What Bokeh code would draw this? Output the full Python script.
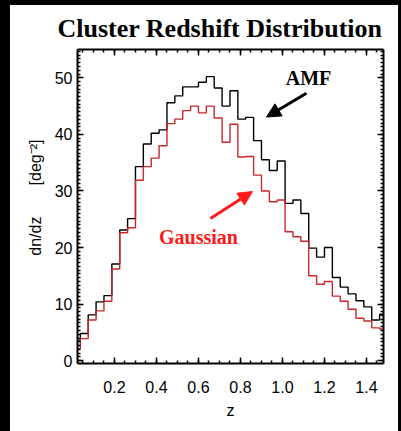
from bokeh.plotting import figure
from bokeh.models import (Range1d, LinearAxis, Label, Arrow, NormalHead, Spacer,
                          SingleIntervalTicker, NumeralTickFormatter)
from bokeh.layouts import row, column
from bokeh.embed import file_html
from bokeh.resources import INLINE

# bin lower edges in z (bin width 0.0375), plus final upper edge
z_lo = [0.0, 0.0375, 0.075, 0.1125, 0.15, 0.1875, 0.225, 0.2625, 0.3, 0.3375,
        0.375, 0.4125, 0.45, 0.4875, 0.525, 0.5625, 0.6, 0.6375, 0.675, 0.7125,
        0.75, 0.7875, 0.825, 0.8625, 0.9, 0.9375, 0.975, 1.0125, 1.05, 1.0875,
        1.125, 1.1625, 1.2, 1.2375, 1.275, 1.3125, 1.35, 1.3875, 1.425, 1.4625]
z_hi_last = 1.5

amf = [3.5, 4.8, 8.1, 10.4, 11.5, 17.1, 23.1, 25.1, 34.3, 38.3,
       40.2, 40.8, 45.6, 46.8, 48.4, 48.4, 49.2, 50.2, 48.2, 45.0,
       47.7, 42.7, 43.0, 38.9, 35.5, 33.6, 35.3, 27.8, 28.4, 26.0,
       19.9, 18.3, 20.0, 14.7, 13.0, 11.8, 10.6, 9.5, 7.2, 8.2]

gauss = [2.1, 3.9, 7.2, 8.8, 10.5, 16.2, 22.6, 23.5, 31.9, 34.3,
         35.8, 38.0, 41.9, 42.7, 44.2, 45.0, 43.8, 45.0, 42.9, 38.6,
         41.8, 36.0, 36.1, 32.8, 30.0, 28.1, 28.4, 22.8, 21.9, 21.1,
         15.0, 13.5, 14.0, 11.4, 10.5, 9.1, 7.5, 7.0, 5.8, 5.6]

x_ticks_interval = 0.2
y_ticks_interval = 10

title_text = "Cluster Redshift Distribution"
xlabel = "z"
NB = "\u00a0"
ylabel = NB * 4 + "dn/dz" + NB * 7 + "[deg\u207b\u00b2]"

p = figure(width=388, height=426, output_backend="svg", toolbar_location=None,
           x_range=Range1d(0.024, 1.481), y_range=Range1d(-0.5, 55),
           min_border_left=67, min_border_right=15, min_border_top=42, min_border_bottom=68,
           background_fill_color="white", border_fill_color="white")
p.outline_line_color = None
p.grid.visible = False

xs = z_lo + [z_hi_last]
p.step(xs, amf + [amf[-1]], mode="after", line_color="black", line_width=1.4)
p.step(xs, gauss + [gauss[-1]], mode="after", line_color="#c8282d", line_width=1.4)

def style(ax, labels=True):
    ax.axis_line_width = 2
    ax.axis_line_color = "black"
    ax.major_tick_in = 6
    ax.major_tick_out = 0
    ax.minor_tick_in = 3
    ax.minor_tick_out = 0
    ax.major_tick_line_width = 1.5
    ax.minor_tick_line_width = 1.5
    ax.major_tick_line_color = "black"
    ax.minor_tick_line_color = "black"
    if labels:
        ax.major_label_text_font = "Liberation Sans"
        ax.major_label_text_font_size = "16px"
        ax.major_label_text_color = "black"
    else:
        ax.major_label_text_font_size = "1px"
        ax.major_label_text_color = None
        ax.major_label_standoff = 0

p.xaxis.ticker = SingleIntervalTicker(interval=x_ticks_interval, num_minor_ticks=4)
p.yaxis.ticker = SingleIntervalTicker(interval=y_ticks_interval, num_minor_ticks=15)
p.xaxis.formatter = NumeralTickFormatter(format="0.0")
style(p.xaxis[0])
style(p.yaxis[0])
p.xaxis.major_label_standoff = 17
p.yaxis.major_label_standoff = 5

for ax, lab, so in ((p.xaxis, xlabel, 6), (p.yaxis, ylabel, 8)):
    ax.axis_label = lab
    ax.axis_label_standoff = so
    ax.axis_label_text_font = "Liberation Sans"
    ax.axis_label_text_font_style = "normal"
    ax.axis_label_text_font_size = "16px"
    ax.axis_label_text_color = "black"

top = LinearAxis(ticker=SingleIntervalTicker(interval=x_ticks_interval, num_minor_ticks=4))
style(top, labels=False)
p.add_layout(top, "above")
right = LinearAxis(ticker=SingleIntervalTicker(interval=y_ticks_interval, num_minor_ticks=15))
style(right, labels=False)
p.add_layout(right, "right")

p.title.text = title_text
p.title.align = "left"
p.title.offset = -20
p.title.standoff = 13
p.title.text_font = "Liberation Serif"
p.title.text_font_style = "bold"
p.title.text_font_size = "26px"
p.title.text_color = "black"

p.add_layout(Label(x=1.124, y=49.9, text="AMF", text_align="center", text_baseline="middle",
                   text_font="Liberation Serif", text_font_style="bold", text_font_size="20px",
                   text_color="black"))
p.add_layout(Label(x=0.6, y=21.8, text="Gaussian", text_align="center", text_baseline="middle",
                   text_font="Liberation Serif", text_font_style="bold", text_font_size="20px",
                   text_color="#ff1a1a"))

p.add_layout(Arrow(end=NormalHead(size=14, fill_color="black", line_color="black"),
                   x_start=1.114, y_start=47.27, x_end=0.924, y_end=43.06,
                   line_width=3, line_color="black"))
p.add_layout(Arrow(end=NormalHead(size=14, fill_color="#ff1a1a", line_color="#ff1a1a"),
                   x_start=0.657, y_start=25.14, x_end=0.857, y_end=29.89,
                   line_width=3, line_color="#ff1a1a"))

blk = {"background-color": "black"}
left_strip = Spacer(width=10, height=431, styles=blk)
top_strip = Spacer(width=388, height=5, styles=blk)
right_strip = Spacer(width=3, height=431, styles=blk)
lay = row(left_strip, column(top_strip, p, spacing=0), right_strip, spacing=0)

open("out.html", "w").write(file_html(lay, INLINE))
